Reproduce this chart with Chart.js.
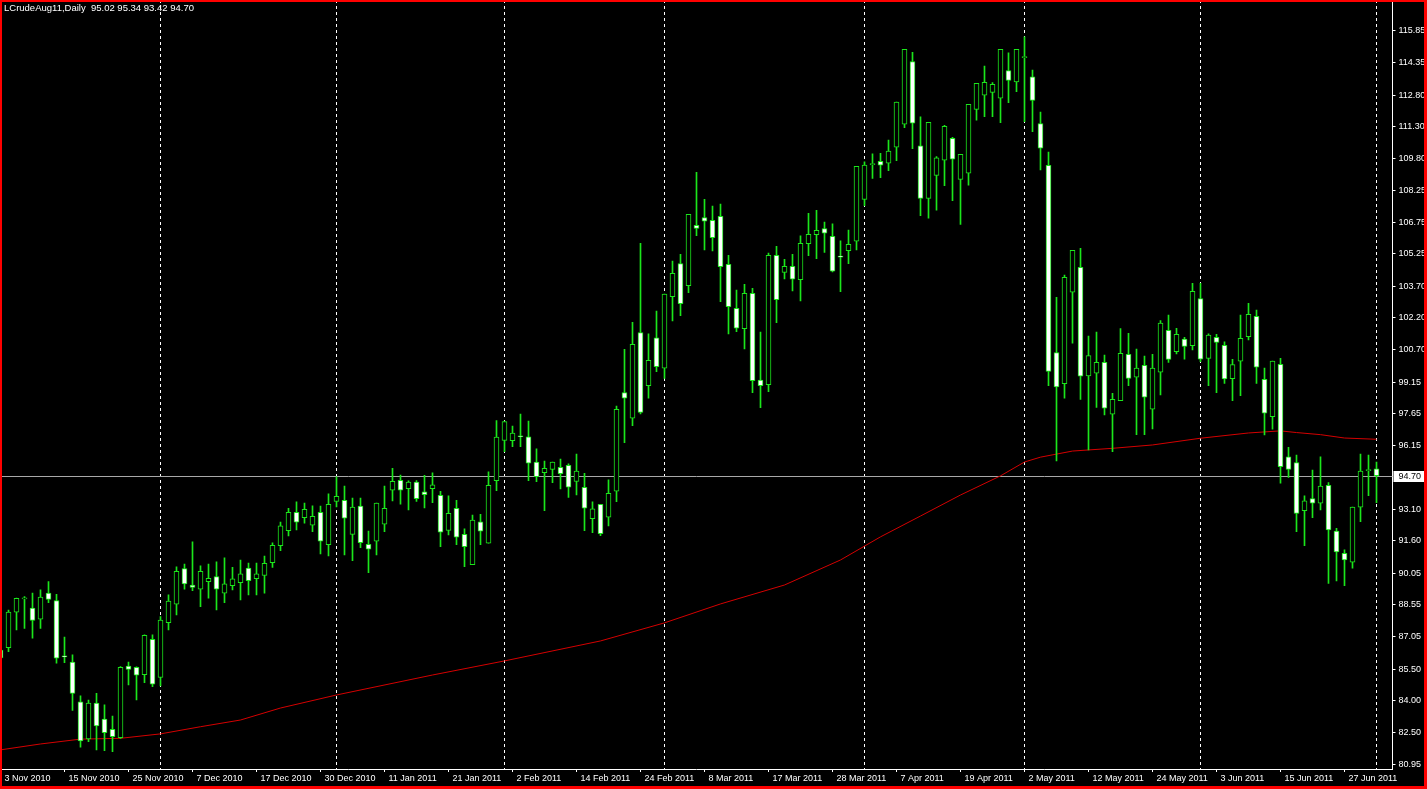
<!DOCTYPE html>
<html>
<head>
<meta charset="utf-8">
<script src="https://cdn.jsdelivr.net/npm/chart.js@4.4.1/dist/chart.umd.min.js"></script>
<style>
  html, body { margin: 0; padding: 0; background: #000; overflow: hidden; }
  #wrap { position: relative; width: 1427px; height: 789px; }
  #frame { position: absolute; left: 0; top: 0; width: 1427px; height: 789px; box-sizing: border-box;
           border: solid #ff0000; border-width: 2px 3px 3px 2px; pointer-events: none; }
</style>
</head>
<body>
<div id="wrap">
  <canvas id="chart" width="1427" height="789" style="width:1427px;height:789px"></canvas>
  <div id="frame"></div>
</div>
<script>
// LCrudeAug11, Daily
const symbol = 'LCrudeAug11';
const period = 'Daily';

const openV = [
  86.41, 86.52, 88.21, 88.84, 88.40, 87.87, 89.11, 88.76, 86.10, 85.83,
  83.95, 82.18, 83.88, 83.12, 82.64, 82.24, 85.65, 85.59, 85.24, 86.92,
  85.10, 87.71, 88.59, 90.28, 89.50, 89.30, 89.66, 89.90, 89.11, 89.47,
  89.61, 90.31, 89.80, 89.95, 90.56, 91.37, 92.08, 92.96, 92.70, 92.34,
  92.96, 91.42, 93.48, 93.53, 91.91, 93.25, 91.44, 91.58, 92.39, 94.01,
  94.48, 94.08, 94.40, 93.93, 94.08, 93.77, 92.09, 93.15, 91.91, 90.47,
  92.50, 91.49, 94.46, 96.37, 96.36, 96.59, 96.55, 95.34, 94.84, 95.00,
  95.10, 95.19, 94.42, 94.15, 92.65, 93.34, 92.72, 93.96, 98.65, 97.43,
  101.50, 98.98, 101.26, 99.81, 103.21, 104.78, 103.73, 106.61, 106.97, 106.84,
  107.03, 104.75, 102.66, 101.69, 103.37, 99.25, 99.03, 105.18, 104.37, 104.66,
  104.02, 105.73, 106.16, 106.45, 106.08, 105.11, 105.40, 105.85, 107.84, 109.49,
  109.65, 109.56, 110.32, 111.41, 114.39, 110.39, 107.89, 108.98, 109.70, 110.74,
  108.79, 109.08, 112.12, 112.79, 112.93, 112.65, 113.96, 113.43, 114.58, 113.67,
  111.44, 109.46, 100.55, 99.07, 103.42, 104.61, 99.44, 99.57, 100.09, 97.62,
  98.27, 100.47, 99.38, 99.95, 97.86, 99.62, 101.61, 100.60, 101.19, 100.88,
  103.12, 100.28, 101.28, 100.90, 99.31, 100.14, 101.31, 102.28, 99.28, 97.51,
  100.00, 95.60, 95.32, 93.04, 93.61, 93.39, 94.24, 92.06, 91.01, 90.58,
  93.20, 94.94, 95.02
];
const highV = [
  86.65, 88.31, 88.88, 88.95, 89.11, 89.27, 89.66, 89.06, 87.02, 86.18,
  84.23, 84.03, 84.35, 83.80, 83.27, 85.62, 85.84, 85.61, 87.13, 87.13,
  88.00, 89.03, 90.37, 90.50, 91.55, 90.41, 90.50, 90.60, 90.79, 90.34,
  90.69, 90.54, 90.54, 90.88, 91.51, 92.49, 93.15, 93.45, 93.39, 93.26,
  93.25, 93.83, 94.64, 94.21, 93.63, 93.63, 92.07, 93.40, 94.21, 95.05,
  94.73, 94.45, 94.46, 94.72, 94.83, 93.96, 93.74, 93.53, 92.17, 92.83,
  92.86, 94.88, 97.32, 97.30, 97.06, 97.63, 97.30, 95.97, 95.39, 95.35,
  95.49, 95.26, 95.73, 94.81, 93.45, 93.34, 94.50, 98.01, 100.71, 101.99,
  105.75, 101.44, 102.53, 103.34, 104.91, 105.23, 107.13, 109.13, 107.84, 107.52,
  107.61, 105.18, 103.53, 103.80, 103.61, 101.53, 105.28, 105.61, 104.99, 105.23,
  106.10, 107.18, 107.32, 106.76, 106.67, 105.87, 106.38, 109.41, 109.63, 110.00,
  110.03, 110.66, 112.46, 114.98, 114.83, 111.77, 111.50, 109.87, 111.36, 110.79,
  109.98, 112.36, 113.36, 114.18, 113.39, 114.98, 114.81, 114.98, 115.57, 113.99,
  111.99, 110.09, 103.18, 104.24, 105.42, 105.51, 101.34, 101.53, 100.44, 98.62,
  101.69, 101.47, 100.72, 100.39, 100.47, 102.07, 102.34, 101.71, 101.28, 103.85,
  103.85, 101.44, 101.42, 101.07, 100.23, 102.34, 102.90, 102.58, 99.81, 100.15,
  100.28, 96.05, 95.68, 93.74, 94.97, 95.60, 94.37, 92.20, 91.17, 93.21,
  95.73, 95.68, 95.34
];
const lowV = [
  85.79, 86.33, 87.36, 87.44, 86.97, 87.44, 88.66, 85.78, 85.81, 83.53,
  81.79, 82.05, 81.66, 81.62, 81.58, 82.21, 84.75, 84.03, 84.86, 84.67,
  84.70, 87.36, 88.08, 89.30, 89.23, 88.47, 88.87, 88.31, 88.66, 89.27,
  88.79, 89.03, 89.03, 89.11, 90.34, 91.13, 91.83, 92.12, 92.44, 92.04,
  90.98, 90.88, 93.21, 90.93, 90.66, 91.28, 90.09, 90.93, 92.04, 93.50,
  93.35, 93.07, 93.48, 93.16, 93.42, 91.32, 91.88, 91.42, 90.37, 90.47,
  91.42, 91.49, 93.99, 95.84, 96.08, 96.08, 94.46, 94.42, 93.04, 94.37,
  94.07, 93.67, 93.78, 92.08, 91.99, 91.85, 92.31, 93.46, 96.27, 97.08,
  97.63, 98.38, 99.65, 99.33, 102.06, 102.31, 103.40, 106.11, 105.43, 105.39,
  102.97, 101.44, 101.55, 100.73, 98.65, 97.93, 98.69, 101.98, 104.05, 103.48,
  103.01, 105.16, 105.02, 105.32, 104.39, 103.45, 104.78, 105.43, 107.54, 108.84,
  108.87, 109.20, 109.68, 111.25, 110.25, 107.06, 106.94, 107.33, 108.49, 107.78,
  106.65, 108.52, 111.61, 111.77, 111.77, 111.49, 112.44, 112.96, 111.53, 111.06,
  109.24, 98.98, 95.40, 98.38, 101.00, 98.33, 95.92, 97.95, 97.59, 95.84,
  98.27, 98.98, 96.65, 96.65, 96.92, 98.54, 100.09, 100.49, 100.24, 100.68,
  100.12, 98.98, 98.65, 99.09, 98.27, 98.50, 101.15, 99.09, 96.64, 96.91,
  94.34, 94.62, 92.04, 91.37, 92.70, 93.07, 89.58, 89.69, 89.47, 90.30,
  92.51, 93.75, 93.42
];
const closeV = [
  86.03, 88.21, 88.87, 88.87, 87.81, 88.92, 88.82, 86.02, 86.08, 84.35,
  82.08, 83.88, 82.80, 82.48, 82.29, 85.59, 85.49, 85.21, 87.11, 84.78,
  87.83, 88.73, 90.15, 89.55, 89.39, 90.15, 89.82, 89.30, 89.55, 89.79,
  90.03, 89.71, 90.03, 90.53, 91.39, 92.31, 92.96, 92.49, 93.10, 92.77,
  91.58, 93.34, 93.72, 92.68, 93.20, 91.51, 91.20, 93.40, 93.15, 94.43,
  94.01, 94.40, 93.61, 93.80, 94.26, 92.01, 92.91, 91.77, 91.32, 92.59,
  92.06, 94.24, 96.53, 97.27, 96.72, 96.55, 95.29, 94.65, 95.05, 95.34,
  94.80, 94.15, 94.92, 93.15, 93.12, 91.94, 93.86, 97.86, 98.38, 100.95,
  97.71, 100.19, 99.88, 103.33, 104.32, 102.88, 107.13, 106.46, 106.80, 106.02,
  104.64, 102.74, 101.71, 103.37, 99.22, 98.98, 105.18, 103.07, 104.66, 104.04,
  105.75, 106.18, 106.37, 106.23, 104.42, 105.09, 105.70, 109.41, 109.47, 109.51,
  109.46, 110.13, 112.46, 114.98, 111.46, 107.89, 111.50, 109.81, 111.31, 109.75,
  109.98, 112.36, 113.36, 113.41, 113.31, 114.98, 113.50, 114.98, 114.60, 112.55,
  110.27, 99.66, 98.92, 104.13, 105.42, 99.43, 100.41, 100.09, 97.91, 98.33,
  100.52, 99.33, 99.82, 98.43, 99.81, 101.95, 100.23, 101.42, 100.85, 103.47,
  100.24, 101.38, 101.04, 99.30, 99.98, 101.23, 102.37, 99.86, 97.67, 100.15,
  95.13, 95.00, 92.91, 93.50, 93.39, 94.20, 92.12, 91.07, 90.69, 93.21,
  94.92, 94.96, 94.70
];

// moving average (red line), read at these bar numbers
const maIdx = [0, 5, 10, 15, 20, 25, 30, 35, 42, 54, 63, 75, 83, 90, 98, 105, 110, 115,
               120, 125, 128, 130, 134, 139, 144, 150, 156, 160, 162, 165, 168, 172];
const maVal = [81.66, 81.94, 82.17, 82.21, 82.42, 82.76, 83.08, 83.65, 84.27, 85.22, 85.89,
               86.84, 87.70, 88.60, 89.50, 90.69, 91.79, 92.78, 93.78, 94.69, 95.35, 95.58,
               95.87, 96.00, 96.16, 96.48, 96.73, 96.83, 96.75, 96.65, 96.49, 96.43];

// time axis labels, one every 8 bars
const tickLabels = ['3 Nov 2010', '15 Nov 2010', '25 Nov 2010', '7 Dec 2010', '17 Dec 2010',
  '30 Dec 2010', '11 Jan 2011', '21 Jan 2011', '2 Feb 2011', '14 Feb 2011', '24 Feb 2011',
  '8 Mar 2011', '17 Mar 2011', '28 Mar 2011', '7 Apr 2011', '19 Apr 2011', '2 May 2011',
  '12 May 2011', '24 May 2011', '3 Jun 2011', '15 Jun 2011', '27 Jun 2011'];
const tickStep = 8;
// bars where a new month starts (period separators)
const monthStarts = [20, 42, 63, 83, 108, 128, 150, 172];

// price axis
const yTicks = [80.95, 82.50, 84.00, 85.50, 87.05, 88.55, 90.05, 91.60, 93.10, 96.15, 97.65,
  99.15, 100.70, 102.20, 103.70, 105.25, 106.75, 108.25, 109.80, 111.30, 112.80, 114.35, 115.85];
const yMin = 80.75;
const yMax = 117.32;

const GREEN = '#1be61b';
const FONT = { family: 'Liberation Sans', size: 9 };

const N = openV.length;
const categories = [];
for (let i = 0; i < N + 2; i++) {
  categories.push(i % tickStep === 0 && tickLabels[i / tickStep] ? tickLabels[i / tickStep] : '');
}
const tickIdx = tickLabels.map((_, k) => k * tickStep);

const maData = new Array(N).fill(null);
maIdx.forEach((k, j) => { maData[k] = maVal[j]; });

const isBull = closeV.map((c, i) => c >= openV[i]);
const last = N - 1;

const overlay = {
  id: 'overlay',
  beforeDatasetsDraw(chart) {
    const { ctx, chartArea: a, scales: { x, y } } = chart;
    ctx.save();
    ctx.lineWidth = 1;
    ctx.strokeStyle = '#ffffff';
    ctx.setLineDash([3, 3]);
    monthStarts.forEach(i => {
      const px = Math.floor(x.getPixelForValue(i)) + 0.5;
      ctx.beginPath();
      ctx.moveTo(px, a.top);
      ctx.lineTo(px, a.bottom);
      ctx.stroke();
    });
    ctx.setLineDash([]);
    const py = Math.round(y.getPixelForValue(closeV[last])) + 0.5;
    ctx.strokeStyle = '#a8a8a8';
    ctx.beginPath();
    ctx.moveTo(a.left, py);
    ctx.lineTo(a.right, py);
    ctx.stroke();
    ctx.restore();
  },
  afterDraw(chart) {
    const { ctx, chartArea: a, scales: { y } } = chart;
    ctx.save();
    ctx.font = '9.5px "Liberation Sans"';
    ctx.fillStyle = '#ffffff';
    ctx.textBaseline = 'alphabetic';
    const t = symbol + ',' + period + '  ' + [openV[last], highV[last], lowV[last], closeV[last]]
      .map(v => v.toFixed(2)).join(' ');
    ctx.fillText(t, 4, 11);
    // last price marker on the price axis
    ctx.font = '9px "Liberation Sans"';
    const py = Math.round(y.getPixelForValue(closeV[last]));
    ctx.fillStyle = '#ffffff';
    ctx.fillRect(a.right + 1, py - 5, 34, 11);
    ctx.fillStyle = '#000000';
    ctx.textBaseline = 'middle';
    ctx.fillText(closeV[last].toFixed(2), a.right + 6, py + 0.5);
    ctx.restore();
  }
};

new Chart(document.getElementById('chart'), {
  type: 'bar',
  data: {
    labels: categories,
    datasets: [
      {
        type: 'line',
        data: maData,
        borderColor: '#d40000',
        borderWidth: 1,
        pointRadius: 0,
        spanGaps: true,
        tension: 0,
        order: 3
      },
      {
        data: lowV.map((l, i) => [l, highV[i]]),
        backgroundColor: GREEN,
        barThickness: 1,
        grouped: false,
        order: 2
      },
      {
        data: openV.map((o, i) => [Math.min(o, closeV[i]), Math.max(o, closeV[i])]),
        backgroundColor: isBull.map(b => (b ? '#000000' : '#ffffff')),
        borderColor: GREEN,
        borderWidth: 1,
        borderSkipped: false,
        barThickness: 5,
        minBarLength: 1,
        grouped: false,
        order: 1
      }
    ]
  },
  options: {
    responsive: false,
    animation: false,
    layout: { padding: { left: 0.5, top: 0, right: 0, bottom: 0 } },
    plugins: { legend: { display: false }, tooltip: { enabled: false } },
    scales: {
      x: {
        type: 'category',
        offset: false,
        grid: { display: true, offset: false, drawOnChartArea: false, drawTicks: true, tickLength: 3, color: '#ffffff' },
        border: { display: true, color: '#ffffff' },
        ticks: { color: '#ffffff', font: FONT, align: 'start', labelOffset: 4, padding: 1,
                 maxRotation: 0, minRotation: 0, autoSkip: false },
        afterBuildTicks: s => { s.ticks = tickIdx.map(v => ({ value: v })); },
        afterFit: s => { s.height = 20; s.paddingLeft = 0; s.paddingRight = 0; }
      },
      y: {
        position: 'right',
        min: yMin,
        max: yMax,
        grid: { display: true, drawOnChartArea: false, drawTicks: true, tickLength: 3, color: '#ffffff' },
        border: { display: true, color: '#ffffff' },
        ticks: { color: '#ffffff', font: FONT, padding: 3, callback: v => Number(v).toFixed(2) },
        afterBuildTicks: s => { s.ticks = yTicks.map(v => ({ value: v })); },
        afterFit: s => { s.width = 34.5; s.paddingTop = 0; s.paddingBottom = 0; }
      }
    }
  },
  plugins: [overlay]
});
</script>
</body>
</html>
